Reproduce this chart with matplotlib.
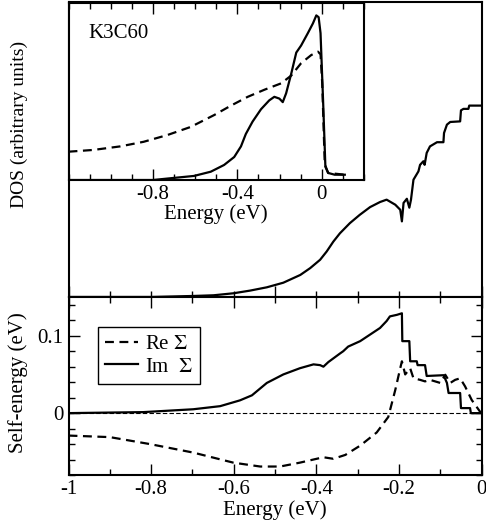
import matplotlib
matplotlib.use('Agg')
import matplotlib.pyplot as plt
from matplotlib.ticker import MultipleLocator, FixedLocator

plt.rcParams['font.family'] = ['Liberation Serif', 'DejaVu Serif']
plt.rcParams['font.size'] = 15
plt.rcParams['mathtext.fontset'] = 'stix'
plt.rcParams['axes.unicode_minus'] = False

# main DOS (upper panel)
dos_E = [-1.0, -0.8, -0.698, -0.649, -0.601, -0.561, -0.520, -0.480, -0.439, -0.415,
         -0.391, -0.375, -0.359, -0.343, -0.319, -0.295, -0.270, -0.246, -0.230, -0.209,
         -0.197, -0.193, -0.189, -0.181, -0.175, -0.171, -0.165, -0.153, -0.149, -0.141,
         -0.138, -0.133, -0.125, -0.108, -0.0925, -0.091, -0.084, -0.076, -0.052, -0.050,
         -0.044, -0.032, -0.030, 0.0]
dos_v = [0.0, 0.0, 0.0034, 0.0057, 0.0124, 0.0213, 0.0325, 0.048, 0.074, 0.097,
         0.125, 0.153, 0.186, 0.214, 0.248, 0.276, 0.302, 0.319, 0.327, 0.310,
         0.293, 0.254, 0.316, 0.330, 0.300, 0.327, 0.394, 0.422, 0.444, 0.456,
         0.444, 0.484, 0.506, 0.520, 0.520, 0.551, 0.579, 0.588, 0.590, 0.627,
         0.632, 0.632, 0.643, 0.643]

# inset DOS
ins_solid_E = [-1.2, -0.8, -0.717, -0.606, -0.526, -0.463, -0.415, -0.383, -0.36, -0.328,
               -0.288, -0.249, -0.225, -0.201, -0.185, -0.169, -0.145, -0.121, -0.098, -0.066,
               -0.042, -0.026, -0.015, -0.006, 0.006, 0.017, 0.03, 0.061, 0.109]
ins_solid_v = [0.0, 0.0, 0.01, 0.023, 0.047, 0.085, 0.13, 0.19, 0.26, 0.33,
               0.40, 0.45, 0.47, 0.46, 0.44, 0.49, 0.60, 0.72, 0.76, 0.83,
               0.885, 0.93, 0.92, 0.83, 0.45, 0.075, 0.04, 0.03, 0.03]
ins_dash_E = [-1.2, -1.082, -0.955, -0.844, -0.732, -0.621, -0.51, -0.431, -0.351, -0.272,
              -0.193, -0.145, -0.098, -0.05, -0.018, -0.006, 0.002, 0.014, 0.03, 0.109]
ins_dash_v = [0.16, 0.17, 0.19, 0.216, 0.254, 0.30, 0.367, 0.42, 0.47, 0.51,
              0.546, 0.59, 0.66, 0.706, 0.725, 0.71, 0.546, 0.09, 0.04, 0.03]

# self-energy (lower panel)
im_E = [-1.0, -0.819, -0.698, -0.633, -0.585, -0.556, -0.52, -0.48, -0.44, -0.407,
        -0.391, -0.383, -0.371, -0.343, -0.335, -0.323, -0.294, -0.246, -0.230, -0.222,
        -0.205, -0.193, -0.192, -0.175, -0.173, -0.157, -0.155, -0.137, -0.133, -0.092,
        -0.084, -0.080, -0.052, -0.050, -0.028, -0.026, 0.0]
im_v = [0.0, 0.0013, 0.005, 0.009, 0.0165, 0.023, 0.039, 0.050, 0.058, 0.063,
        0.062, 0.060, 0.066, 0.077, 0.080, 0.086, 0.093, 0.110, 0.119, 0.125,
        0.127, 0.129, 0.093, 0.093, 0.067, 0.067, 0.062, 0.062, 0.048, 0.049,
        0.039, 0.026, 0.026, 0.0065, 0.0065, 0.0, 0.0]
re_E = [-1.0, -0.90, -0.803, -0.698, -0.601, -0.536, -0.488, -0.44, -0.383, -0.359,
        -0.33, -0.294, -0.254, -0.226, -0.209, -0.197, -0.193, -0.185, -0.173, -0.165,
        -0.149, -0.137, -0.125, -0.10, -0.088, -0.076, -0.064, -0.052, -0.040, -0.024,
        -0.004, 0.0]
re_v = [-0.029, -0.031, -0.040, -0.051, -0.064, -0.069, -0.069, -0.064, -0.057, -0.059,
        -0.054, -0.042, -0.025, -0.005, 0.030, 0.058, 0.067, 0.050, 0.058, 0.045,
        0.043, 0.041, 0.043, 0.039, 0.0496, 0.039, 0.043, 0.045, 0.0345, 0.017,
        0.002, 0.0]

fig = plt.figure(figsize=(4.86, 5.29), dpi=100)


def ticks(ax):
    ax.tick_params(which='both', direction='in', width=1)
    ax.tick_params(which='major', length=8)
    ax.tick_params(which='minor', length=4)
    for s in ax.spines.values():
        s.set_linewidth(1.5)


def fmt(v, p):
    return '0' if abs(v) < 1e-9 else f'{v:g}'


# upper panel
ax1 = fig.add_axes([0.141, 0.4386, 0.850, 0.557])
ax1.plot(dos_E, dos_v, 'k-', lw=1.6)
ax1.set_xlim(-1, 0)
ax1.set_ylim(0, 0.99)
ax1.xaxis.set_major_locator(MultipleLocator(0.5))
ax1.xaxis.set_minor_locator(MultipleLocator(0.1))
ticks(ax1)
ax1.tick_params(which='both', left=False, labelleft=False, labelbottom=False)
ax1.set_ylabel('DOS (arbitrary units)', fontsize=14)
ax1.yaxis.set_label_coords(-0.098, 0.584)

# inset
ax2 = fig.add_axes([0.141, 0.6597, 0.608, 0.3346])
ax2.set_facecolor('white')
ax2.plot(ins_dash_E, ins_dash_v, 'k--', lw=1.6, dashes=(4, 2.5))
ax2.plot(ins_solid_E, ins_solid_v, 'k-', lw=1.6)
ax2.set_xlim(-1.2, 0.2)
ax2.set_ylim(0, 1)
ax2.xaxis.set_major_locator(FixedLocator([-0.8, -0.4, 0.0]))
ax2.xaxis.set_minor_locator(MultipleLocator(0.1))
ax2.xaxis.set_major_formatter(fmt)
ticks(ax2)
ax2.tick_params(which='both', top=True, left=False, labelleft=False)
ax2.set_xlabel('Energy (eV)', labelpad=0)
ax2.text(0.066, 0.83, 'K3C60', transform=ax2.transAxes, va='center', ha='left')

# lower panel
ax3 = fig.add_axes([0.141, 0.102, 0.850, 0.3365])
ax3.axhline(0, color='k', lw=0.8, ls=(0, (4, 2)))
ax3.plot(re_E, re_v, 'k--', lw=1.6, dashes=(4, 2.5), label=r'Re $\Sigma$')
ax3.plot(im_E, im_v, 'k-', lw=1.6, label=r'Im  $\Sigma$')
ax3.set_xlim(-1, 0)
ax3.set_ylim(-0.08, 0.15)
ax3.xaxis.set_major_locator(MultipleLocator(0.2))
ax3.xaxis.set_minor_locator(MultipleLocator(0.1))
ax3.yaxis.set_major_locator(MultipleLocator(0.1))
ax3.yaxis.set_minor_locator(MultipleLocator(0.02))
ax3.xaxis.set_major_formatter(fmt)
ax3.yaxis.set_major_formatter(fmt)
ticks(ax3)
ax3.tick_params(which='both', top=True, right=True)
ax3.set_xlabel('Energy (eV)', labelpad=1)
ax3.set_ylabel('Self-energy (eV)')
ax3.yaxis.set_label_coords(-0.098, 0.517)
leg = ax3.legend(loc='upper left', bbox_to_anchor=(0.071, 0.831), borderaxespad=0,
                 fancybox=False, edgecolor='k', framealpha=1, handlelength=1.6,
                 handletextpad=0.3, borderpad=0.35, labelspacing=0.15)
leg.get_frame().set_linewidth(1.0)

fig.savefig('out.png', dpi=100)
